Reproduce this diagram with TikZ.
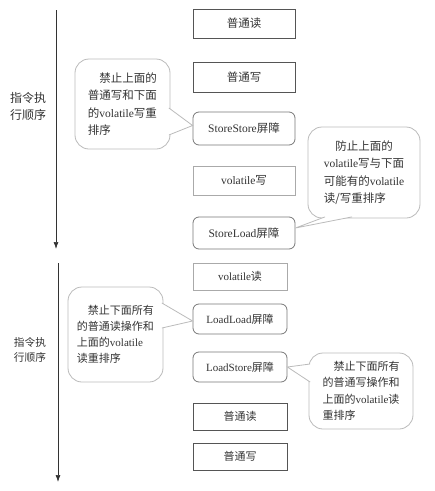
\documentclass[tikz,border=0pt]{standalone}
\usepackage{fontspec}
\setmainfont{Liberation Serif}
\newfontfamily\cjk{Noto Sans CJK SC}
\newcommand\zh[1]{{\cjk #1}}
\usetikzlibrary{arrows.meta}
\definecolor{ink}{HTML}{333333}
\definecolor{plain}{HTML}{555555}
\definecolor{fence}{HTML}{777777}
\definecolor{soft}{HTML}{AAAAAA}
\definecolor{pale}{HTML}{BBBBBB}

\begin{document}
\begin{tikzpicture}[x=1pt,y=-1pt,
		every node/.style={text=ink,inner sep=0pt},
		stage/.style={draw=#1,line width=0.8pt},
		note/.style={draw=pale,line width=0.8pt,fill=white,rounded corners=14pt,align=left},
		tail/.style={draw=pale,line width=0.8pt,fill=white},
		flow/.style={draw=ink,line width=0.7pt,-{Latex[length=7pt,width=5pt]}}]
	\useasboundingbox (0,0) rectangle (435,491);

	% store side
	\foreach \n/\y/\h/\r/\c/\t in {r1/23.5/29/0/plain/{\zh{普通读}},
			w1/77/30/0/plain/{\zh{普通写}},
			ss/128.5/33/6/fence/{StoreStore\zh{屏障}},
			vw/180.5/29/0/soft/{volatile\zh{写}},
			sl/233/32/6/fence/{StoreLoad\zh{屏障}}} {
			\node[stage=\c,rounded corners=\r pt,minimum width=102pt,minimum height=\h pt,
				font=\fontsize{11.5}{14}\selectfont] (\n) at (244,\y) {\t};
		}

	% load side
	\foreach \n/\y/\h/\r/\c/\t in {vr/276.5/27/0/soft/{volatile\zh{读}},
			ll/319/30/6/fence/{LoadLoad\zh{屏障}},
			ls/367/30/6/fence/{LoadStore\zh{屏障}},
			r2/416.5/27/0/plain/{\zh{普通读}},
			w2/456.5/27/0/plain/{\zh{普通写}}} {
			\node[stage=\c,rounded corners=\r pt,minimum width=94pt,minimum height=\h pt,
				font=\fontsize{11}{14}\selectfont] (\n) at (240,\y) {\t};
		}

	\coordinate (start1) at (56,10);
	\coordinate (end1) at (56,249);
	\coordinate (start2) at (58,263);
	\coordinate (end2) at (58,482);
	\draw[flow] (start1) -- (end1);
	\draw[flow] (start2) -- (end2);

	\node[align=left,font=\fontsize{12}{17}\selectfont] (order1) at (28,106) {\zh{指令执}\\\zh{行顺序}};
	\node[align=left,font=\fontsize{10.7}{15}\selectfont] (order2) at (30,350) {\zh{指令执}\\\zh{行顺序}};

	\node[note,minimum width=95pt,minimum height=90pt,font=\fontsize{11.5}{17.5}\selectfont] (note1) at (122.5,104)
	{\hspace*{1em}\zh{禁止上面的}\\\zh{普通写和下面}\\\zh{的}volatile\zh{写重}\\\zh{排序}};
	\node[note,minimum width=112pt,minimum height=91pt,font=\fontsize{11.5}{17.5}\selectfont] (note2) at (364,172.5)
	{\hspace*{1em}\zh{防止上面的}\\volatile\zh{写与下面}\\\zh{可能有的}volatile\\\zh{读/写重排序}};
	\node[note,minimum width=95pt,minimum height=95pt,font=\fontsize{11}{16}\selectfont] (note3) at (115.5,334.5)
	{\hspace*{1em}\zh{禁止下面所有}\\\zh{的普通读操作和}\\\zh{上面的}volatile\\\zh{读重排序}};
	\node[note,minimum width=104pt,minimum height=76pt,font=\fontsize{11}{16.5}\selectfont] (note4) at (361,391)
	{\hspace*{1em}\zh{禁止下面所有}\\\zh{的普通写操作和}\\\zh{上面的}volatile\zh{读}\\\zh{重排序}};

	\draw[tail] ([xshift=-1.5pt,yshift=-4pt]note1.east) -- ([yshift=3pt]ss.west) -- ([xshift=-1.5pt,yshift=-31pt]note1.east);
	\draw[tail] ([xshift=-39pt,yshift=1.5pt]note2.south) -- ([yshift=5pt]sl.east) -- ([xshift=-12pt,yshift=1.5pt]note2.south);
	\draw[tail] ([xshift=-1.5pt,yshift=31.5pt]note3.east) -- ([yshift=-2pt]ll.west) -- ([xshift=-1.5pt,yshift=6.5pt]note3.east);
	\draw[tail] ([xshift=1.5pt,yshift=27pt]note4.west) -- (ls.east) -- ([xshift=1.5pt,yshift=9pt]note4.west);
\end{tikzpicture}
\end{document}
